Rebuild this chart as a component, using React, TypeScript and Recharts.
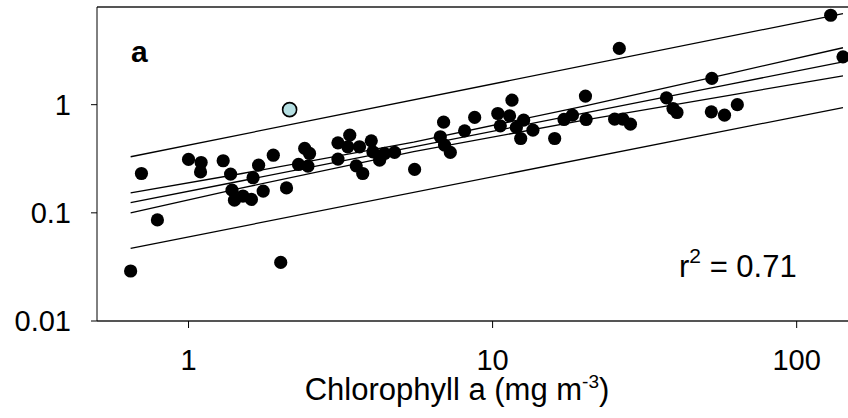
import React from 'react'
import {
  ScatterChart,
  Scatter,
  XAxis,
  YAxis,
  ReferenceLine,
  Label,
} from 'recharts'

// measured points (chlorophyll a, response), log-log
const chlorophyll = [
  0.645, 0.7, 0.79, 1.0, 1.1, 1.095, 1.3, 1.375, 1.39, 1.416, 1.51, 1.61, 1.63, 1.7, 1.76, 1.9,
  2.1, 2.01, 2.3, 2.41, 2.5, 2.47, 3.1, 3.1, 3.39, 3.34, 3.65, 3.56, 3.74, 3.99, 4.04, 4.25,
  4.41, 4.76, 5.54, 6.9, 6.73, 6.95, 7.26, 8.09, 8.73, 10.4, 11.58, 11.37, 10.6, 12.65, 11.97,
  13.57, 12.37, 16.0, 17.17, 18.3, 20.2, 20.3, 25.2, 26.8, 28.4, 26.1, 37.3, 39.2, 40.4, 52.6,
  52.4, 57.9, 63.8, 129.4, 142,
]
const response = [
  0.029, 0.231, 0.086, 0.312, 0.292, 0.239, 0.303, 0.228, 0.162, 0.131, 0.143, 0.133, 0.211,
  0.276, 0.159, 0.341, 0.17, 0.0348, 0.28, 0.394, 0.354, 0.27, 0.444, 0.314, 0.523, 0.408,
  0.408, 0.272, 0.231, 0.463, 0.366, 0.307, 0.354, 0.362, 0.252, 0.689, 0.505, 0.423, 0.362,
  0.573, 0.762, 0.829, 1.1, 0.788, 0.637, 0.719, 0.616, 0.581, 0.487, 0.487, 0.73, 0.8, 1.2,
  0.73, 0.735, 0.735, 0.661, 3.31, 1.156, 0.922, 0.847, 1.75, 0.858, 0.8, 1.0, 6.71, 2.77,
]

// excluded point (open, light fill)
const outlierChl = [2.15]
const outlierResp = [0.9]

// regression line and 95% confidence band
const fitChl = [0.645, 1.5, 5.5, 20, 60, 142]
const fitMid = [0.124, 0.198, 0.407, 0.836, 1.54, 2.49]
const ciUpper = [0.153, 0.231, 0.451, 0.971, 1.94, 3.36]
const ciLower = [0.1, 0.17, 0.368, 0.719, 1.22, 1.85]

// prediction band
const piChl = [0.645, 142]
const piUpper = [0.33, 6.96]
const piLower = [0.047, 0.94]

const xTicks = [1, 10, 100]
const yTicks = [0.01, 0.1, 1]

const toPts = (xs: number[], ys: number[]) => xs.map((x, i) => ({ x, y: ys[i] }))

const FONT = '"Liberation Sans", Arial, sans-serif'
const LINE = { stroke: '#000', strokeWidth: 1.3 }
const noDot = () => <g />

export default function App() {
  const points = toPts(chlorophyll, response)
  const outlier = toPts(outlierChl, outlierResp)

  return (
    <div style={{ position: 'absolute', left: 0, top: 0 }}>
      <ScatterChart
        width={848}
        height={418}
        margin={{ top: 7, right: 0, left: 0, bottom: 0 }}
        style={{ fontFamily: FONT }}
      >
        <XAxis
          type="number"
          dataKey="x"
          scale="log"
          domain={[0.5, 147.5]}
          allowDataOverflow
          ticks={xTicks}
          tickFormatter={(v) => String(v)}
          height={97}
          tickSize={7}
          tickMargin={21}
          tick={{ fill: '#000', fontSize: 29 }}
          axisLine={{ stroke: '#555', strokeWidth: 2 }}
          tickLine={{ stroke: '#000' }}
        >
          <Label
            content={() => (
              <g fontFamily={FONT} fill="#000">
                <text x={457} y={400} fontSize={31} textAnchor="middle">
                  Chlorophyll a (mg m
                  <tspan dy={-12} fontSize={19}>-3</tspan>
                  <tspan dy={12} fontSize={31}>)</tspan>
                </text>
                <text x={131} y={62} fontSize={30} fontWeight="bold">a</text>
                <text x={679} y={277} fontSize={31}>
                  r<tspan dy={-14} fontSize={21}>2</tspan>
                  <tspan dy={14} fontSize={31}> = 0.71</tspan>
                </text>
              </g>
            )}
          />
        </XAxis>
        <YAxis
          type="number"
          dataKey="y"
          scale="log"
          domain={[0.01, 8]}
          allowDataOverflow
          ticks={yTicks}
          tickFormatter={(v) => String(v)}
          width={97}
          tickSize={6}
          tickMargin={20}
          tick={{ fill: '#000', fontSize: 29 }}
          axisLine={{ stroke: '#000', strokeWidth: 1 }}
          tickLine={{ stroke: '#000' }}
        />
        <ReferenceLine y={8} stroke="#555" strokeWidth={2} />

        <Scatter data={toPts(piChl, piUpper)} line={LINE} lineType="joint" shape={noDot} isAnimationActive={false} />
        <Scatter data={toPts(piChl, piLower)} line={LINE} lineType="joint" shape={noDot} isAnimationActive={false} />
        <Scatter data={toPts(fitChl, ciUpper)} line={LINE} lineType="joint" shape={noDot} isAnimationActive={false} />
        <Scatter data={toPts(fitChl, fitMid)} line={LINE} lineType="joint" shape={noDot} isAnimationActive={false} />
        <Scatter data={toPts(fitChl, ciLower)} line={LINE} lineType="joint" shape={noDot} isAnimationActive={false} />

        <Scatter
          data={points}
          isAnimationActive={false}
          shape={(p: any) => <circle cx={p.cx} cy={p.cy} r={6.6} fill="#000" />}
        />
        <Scatter
          data={outlier}
          isAnimationActive={false}
          shape={(p: any) => (
            <circle cx={p.cx} cy={p.cy} r={7} fill="#b5dfe2" stroke="#000" strokeWidth={1.6} />
          )}
        />
      </ScatterChart>
    </div>
  )
}
